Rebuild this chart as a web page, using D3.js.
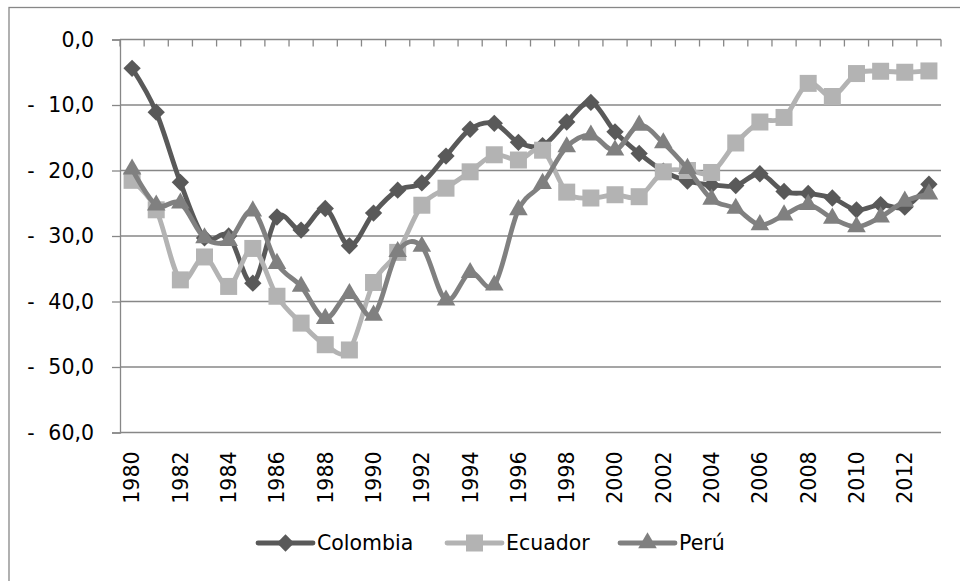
<!DOCTYPE html>
<html>
<head>
<meta charset="utf-8">
<script src="https://cdn.jsdelivr.net/npm/d3@7"></script>
<style>
  body { margin: 0; background: #fff; }
  svg { display: block; }
  text { font-family: "DejaVu Sans", sans-serif; fill: #000; }
</style>
</head>
<body>
<svg id="canvas" width="960" height="581"></svg>
<script>
const years = d3.range(1980, 2014);
const yTicks = [0, -10, -20, -30, -40, -50, -60];
const seriesNames = ["Colombia", "Ecuador", "Perú"];

const colombia = [-4.4, -11.1, -21.8, -30.3, -30.0, -37.2, -27.1, -29.1, -25.8, -31.5, -26.5, -23.0, -21.9, -17.8, -13.7, -12.8,
  -15.7, -16.2, -12.6, -9.6, -14.1, -17.4, -20.1, -21.6, -22.2, -22.3, -20.5, -23.2, -23.5, -24.2, -26.0, -25.2, -25.6, -22.1];
const ecuador = [-21.5, -26.0, -36.7, -33.2, -37.7, -31.9, -39.2, -43.3, -46.6, -47.4, -37.1, -32.5, -25.3, -22.7, -20.2, -17.6,
  -18.4, -16.9, -23.3, -24.2, -23.7, -24.0, -20.2, -20.0, -20.3, -15.8, -12.6, -11.9, -6.7, -8.7, -5.2, -4.85, -5.0, -4.8];
const peru = [-19.8, -25.3, -25.0, -30.3, -30.7, -26.2, -34.2, -37.7, -42.6, -38.8, -42.1, -32.4, -31.6, -39.8, -35.6, -37.5,
  -26.0, -22.0, -16.4, -14.6, -16.9, -13.1, -15.8, -19.7, -24.4, -25.8, -28.3, -26.8, -25.2, -27.3, -28.6, -27.1, -24.7, -23.6];

const allSeries = [colombia, ecuador, peru];
const colors = ["#595959", "#b3b3b3", "#808080"];
const fontSize = "20.5px";

let canvas = d3.select("#canvas");
let padL = 120, padR = 941, padT = 39.5, padB = 432.5;

let xScale = d3.scaleBand().domain(years).range([padL, padR]).padding(0);
let yScale = d3.scaleLinear().domain([-60, 0]).range([padB, padT]);
let bw = xScale.bandwidth();
let axisCol = "#878787";

// marker shapes: diamond is a rotated square
let markerD = [
  d3.symbol().type(d3.symbolSquare).size(150)(),
  d3.symbol().type(d3.symbolSquare).size(289)(),
  d3.symbol().type(d3.symbolTriangle).size(150)()
];
let markerRot = [45, 0, 0];

// outer frame
canvas.append("rect").attr("x", 9).attr("y", 7.5).attr("width", 960).attr("height", 600)
  .attr("fill", "none").attr("stroke", axisCol).attr("stroke-width", 1.3);

// gridlines
canvas.append("g").selectAll("line").data(yTicks.filter(v => v !== 0)).enter().append("line")
  .attr("x1", padL).attr("x2", padR).attr("y1", d => yScale(d)).attr("y2", d => yScale(d))
  .attr("stroke", axisCol).attr("stroke-width", 1.3);

// y axis
let yAxis = d3.axisLeft(yScale).tickValues(yTicks).tickSize(8).tickPadding(18)
  .tickFormat(d => d3.format(".1f")(Math.abs(d)).replace(".", ","));
let gy = canvas.append("g").attr("transform", "translate(" + padL + ",0)").call(yAxis);
gy.select(".domain").attr("stroke", axisCol).attr("stroke-width", 1.3);
gy.selectAll(".tick line").attr("stroke", axisCol).attr("stroke-width", 1.3);
gy.selectAll(".tick text").style("font-size", fontSize).attr("fill", "#000");
gy.selectAll(".tick").filter(d => d !== 0).append("text")
  .attr("x", -(padL - 31)).attr("dy", "0.32em").attr("text-anchor", "middle")
  .style("font-size", fontSize).attr("fill", "#000").text("-");

// x axis (category line at 0, labels low)
canvas.append("line").attr("x1", padL).attr("x2", padR).attr("y1", yScale(0)).attr("y2", yScale(0))
  .attr("stroke", axisCol).attr("stroke-width", 1.3);
let bounds = years.map(y => xScale(y)).concat([padR]);
canvas.append("g").selectAll("line").data(bounds).enter().append("line")
  .attr("x1", d => d).attr("x2", d => d).attr("y1", yScale(0)).attr("y2", yScale(0) + 7)
  .attr("stroke", axisCol).attr("stroke-width", 1.3);
canvas.append("g").selectAll("text").data(years.filter((y, i) => i % 2 === 0)).enter().append("text")
  .attr("transform", d => "translate(" + (xScale(d) + bw / 2) + "," + (padB + 19) + ") rotate(-90)")
  .attr("text-anchor", "end").attr("dy", "0.36em").style("font-size", fontSize).text(d => d);

// series
let line = d3.line().x((d, i) => xScale(years[i]) + bw / 2).y(d => yScale(d)).curve(d3.curveCatmullRom.alpha(0));
allSeries.forEach((s, k) => {
  let g = canvas.append("g");
  g.append("path").datum(s).attr("d", line).attr("fill", "none")
    .attr("stroke", colors[k]).attr("stroke-width", 4.8).attr("stroke-linejoin", "round");
  g.selectAll("path.m").data(s).enter().append("path").attr("class", "m")
    .attr("d", markerD[k])
    .attr("transform", (d, i) => "translate(" + (xScale(years[i]) + bw / 2) + "," + yScale(d) + ") rotate(" + markerRot[k] + ")")
    .attr("fill", colors[k]);
});

// legend
let legX = [258, 447, 620];
let legY = 543;
seriesNames.forEach((n, k) => {
  let g = canvas.append("g").attr("transform", "translate(" + legX[k] + "," + legY + ")");
  g.append("line").attr("x1", 0).attr("x2", 55).attr("stroke", colors[k]).attr("stroke-width", 4.8)
    .attr("stroke-linecap", "round");
  g.append("path").attr("d", markerD[k])
    .attr("transform", "translate(27.5,0) rotate(" + markerRot[k] + ")").attr("fill", colors[k]);
  g.append("text").attr("x", 59).attr("dy", "0.36em").style("font-size", fontSize).text(n);
});
</script>
</body>
</html>
